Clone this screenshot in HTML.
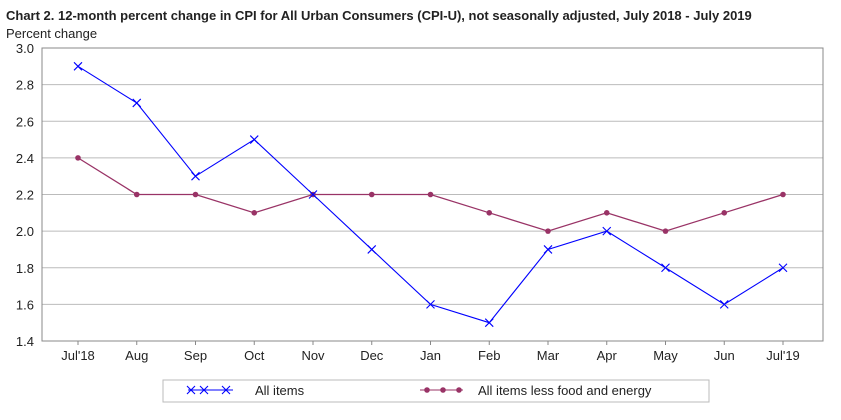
<!DOCTYPE html>
<html><head><meta charset="utf-8"><style>
body{margin:0;background:#fff;font-family:"Liberation Sans",sans-serif;}
svg text{font-family:"Liberation Sans",sans-serif;}
</style></head><body>
<svg width="841" height="415">
<text x="6" y="20" font-size="13" font-weight="bold" fill="#222">Chart 2. 12-month percent change in CPI for All Urban Consumers (CPI-U), not seasonally adjusted, July 2018 - July 2019</text>
<text x="6" y="38" font-size="13" fill="#222">Percent change</text>
<g id="grid"></g><g id="series"></g>
<g>
<rect x="163" y="380" width="546" height="22" fill="#fff" stroke="#bbb"/>
<line x1="188" y1="390" x2="233" y2="390" stroke="#0000ff"/>
<path d="M187,386L195,394M187,394L195,386M200,386L208,394M200,394L208,386M222,386L230,394M222,394L230,386" stroke="#0000ff" stroke-width="1.1"/>
<text x="255" y="395" font-size="13" fill="#222">All items</text>
<line x1="420" y1="390" x2="463" y2="390" stroke="#993366"/>
<circle cx="427" cy="390" r="2.8" fill="#993366"/><circle cx="443" cy="390" r="2.8" fill="#993366"/><circle cx="459" cy="390" r="2.8" fill="#993366"/>
<text x="478" y="395" font-size="13" fill="#222">All items less food and energy</text>
</g>
</svg>
<script>
const categories=["Jul'18","Aug","Sep","Oct","Nov","Dec","Jan","Feb","Mar","Apr","May","Jun","Jul'19"];
const allItems=[2.9,2.7,2.3,2.5,2.2,1.9,1.6,1.5,1.9,2.0,1.8,1.6,1.8];
const core=[2.4,2.2,2.2,2.1,2.2,2.2,2.2,2.1,2.0,2.1,2.0,2.1,2.2];
const yTicks=[1.4,1.6,1.8,2.0,2.2,2.4,2.6,2.8,3.0];
const L=42,R=823,T=48,B=341,x0=78,x1=783;
const ns="http://www.w3.org/2000/svg";
const X=i=>x0+i*(x1-x0)/(categories.length-1);
const Y=v=>B-(v-1.4)/(3.0-1.4)*(B-T);
function mk(t,a,p){const e=document.createElementNS(ns,t);for(const k in a)e.setAttribute(k,a[k]);p.appendChild(e);return e;}
const g=document.getElementById('grid'),s=document.getElementById('series');
yTicks.forEach(v=>{
 const l=mk('line',{x1:L,x2:R,y1:Y(v),y2:Y(v),stroke:'#bbb'},g);
 
 
 const t=mk('text',{x:34,y:Y(v)+5,'font-size':13,'text-anchor':'end',fill:'#222'},g);t.textContent=v.toFixed(1);
 
 
});
const fr=mk('rect',{x:L,y:T,width:R-L,height:B-T,fill:'none',stroke:'#888'},g);


categories.forEach((c,i)=>{
 mk('line',{x1:X(i),x2:X(i),y1:B,y2:B+4,stroke:'#888'},g);
 const t=mk('text',{x:X(i),y:360,'font-size':13,'text-anchor':'middle',fill:'#222'},g);t.textContent=c;
 
 
});
const p2=mk('polyline',{points:core.map((v,i)=>X(i)+','+Y(v)).join(' '),fill:'none',stroke:'#993366','stroke-width':1.3},s);


core.forEach((v,i)=>{const c=mk('circle',{cx:X(i),cy:Y(v),r:2.8,fill:'#993366'},s);
 
 });
const p1=mk('polyline',{points:allItems.map((v,i)=>X(i)+','+Y(v)).join(' '),fill:'none',stroke:'#0000ff','stroke-width':1.1},s);


allItems.forEach((v,i)=>{const x=X(i),y=Y(v);
 const m=mk('path',{d:`M${x-4},${y-4}L${x+4},${y+4}M${x-4},${y+4}L${x+4},${y-4}`,stroke:'#0000ff','stroke-width':1.1},s);
 
 });
</script>
</body></html>
